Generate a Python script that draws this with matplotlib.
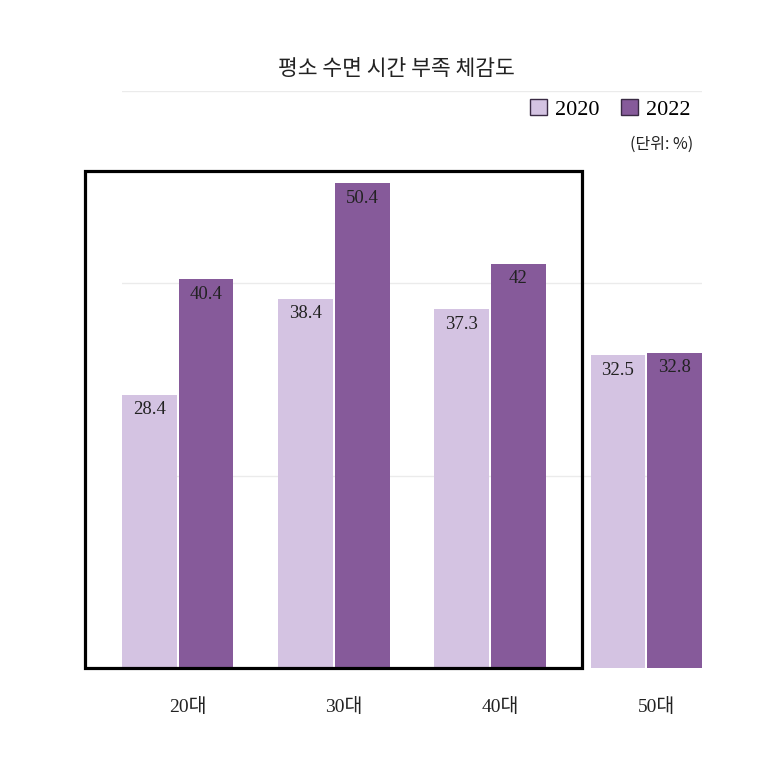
import matplotlib
matplotlib.use("Agg")
import matplotlib.pyplot as plt
import numpy as np
from matplotlib.patches import Rectangle

categories = ["20대", "30대", "40대", "50대"]
series_names = ["2020", "2022"]
values_2020 = [28.4, 38.4, 37.3, 32.5]
values_2022 = [40.4, 50.4, 42, 32.8]
value_labels_2020 = ["28.4", "38.4", "37.3", "32.5"]
value_labels_2022 = ["40.4", "50.4", "42", "32.8"]

LIGHT = "#d4c3e2"
DARK = "#865a9a"
SERIF = ["Liberation Serif", "Noto Sans CJK KR"]

fig = plt.figure(figsize=(7.73, 7.73), dpi=100)
ax = fig.add_axes([0.1578, 0.1358, 0.7504, 0.7465])

x = np.arange(len(categories))
w = 0.35
off = w / 2 + 0.0065
b1 = ax.bar(x - off, values_2020, w, color=LIGHT, label=series_names[0], zorder=2)
b2 = ax.bar(x + off, values_2022, w, color=DARK, label=series_names[1], zorder=2)

for bars, labels in ((b1, value_labels_2020), (b2, value_labels_2022)):
    for r, lab in zip(bars, labels):
        ax.annotate(lab, (r.get_x() + r.get_width() / 2, r.get_height()),
                    xytext=(0, -4.5), textcoords="offset points",
                    ha="center", va="top", fontsize=13.5, color="#222222",
                    family=SERIF, zorder=3)

ax.set_xlim(-w - 0.0065, len(categories) - 1 + w + 0.0065)
ax.set_ylim(0, 60)
ax.set_yticks([20, 40, 60])
ax.yaxis.grid(True, color="#ebebeb", linewidth=1)
ax.set_axisbelow(True)
ax.tick_params(axis="y", left=False, labelleft=False)
ax.tick_params(axis="x", bottom=False, pad=18)
ax.set_xticks(x + 0.065)
ax.set_xticklabels(categories, fontsize=14, family=SERIF, color="#222222")
for s in ax.spines.values():
    s.set_visible(False)

fig.text(396 / 773, 1 - 69 / 773, "평소 수면 시간 부족 체감도", ha="center", va="center",
         fontsize=15.5, family=["Noto Sans CJK KR", "DejaVu Sans"], color="#222222")

leg = ax.legend(loc="upper right", bbox_to_anchor=(0.995, 1.002), ncol=2, frameon=False,
                prop={"family": SERIF, "size": 16}, handlelength=0.75, handleheight=0.75,
                handletextpad=0.35, columnspacing=1.0, borderaxespad=0)
for h in leg.legend_handles:
    h.set_edgecolor("#3a2a44")
    h.set_linewidth(1)

fig.text(693 / 773, 1 - 144 / 773, "(단위: %)", ha="right", va="center",
         fontsize=11.5, family=["Noto Sans CJK KR", "DejaVu Sans"], color="#222222")

# highlight box around 20-40대
fig.add_artist(Rectangle((85 / 773, 1 - 668 / 773), (582 - 85) / 773, (668 - 171) / 773,
                         transform=fig.transFigure, fill=False, edgecolor="black",
                         linewidth=2.3, zorder=5))

fig.savefig("out.png", dpi=100, facecolor="white")
